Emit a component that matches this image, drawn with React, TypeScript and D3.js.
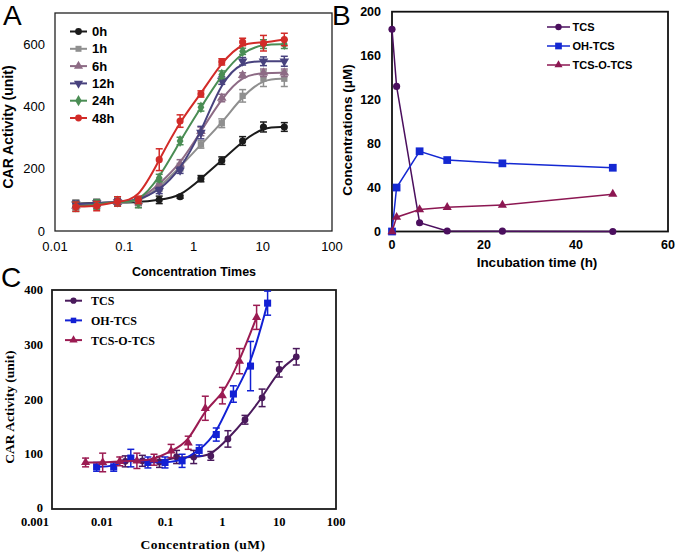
import React from "react";
import * as d3 from "d3";

// ---- panel A: CAR activity vs concentration times ----
const concTimes = [0.02, 0.04, 0.08, 0.16, 0.32, 0.64, 1.28, 2.56, 5.12, 10.24, 20.48];
const act0h = [88, 90, 92, 92, 100, 110, 168, 226, 289, 334, 334];
const err0h = [10, 10, 10, 10, 12, 5, 10, 12, 14, 16, 14];
const act1h = [85, 88, 95, 90, 140, 205, 278, 346, 434, 489, 489];
const err1h = [15, 15, 15, 15, 12, 12, 12, 14, 20, 25, 25];
const act6h = [80, 85, 92, 95, 150, 215, 320, 427, 500, 508, 508];
const err6h = [12, 12, 12, 12, 12, 14, 14, 12, 8, 12, 12];
const act12h = [86, 90, 93, 98, 130, 195, 316, 483, 545, 545, 545];
const err12h = [10, 10, 10, 10, 10, 10, 20, 12, 12, 14, 16];
const act24h = [78, 85, 95, 90, 170, 289, 397, 502, 577, 600, 600];
const err24h = [15, 15, 15, 15, 12, 12, 12, 12, 10, 14, 14];
const act48h = [78, 80, 95, 100, 229, 353, 440, 543, 607, 603, 615];
const err48h = [15, 15, 15, 12, 35, 20, 10, 10, 12, 25, 20];
const aLabels = ["0h", "1h", "6h", "12h", "24h", "48h"];
const aXTicks = [0.01, 0.1, 1, 10, 100];
const aYTicks = [0, 200, 400, 600];

// ---- panel B: concentrations vs incubation time ----
const incTime = [0, 1, 6, 12, 24, 48];
const concTcs = [184, 132, 8, 0.5, 0.3, 0];
const concOhTcs = [0, 40, 73, 65, 62, 58];
const concTcsOTcs = [0, 13, 20, 22, 24, 34];
const bLabels = ["TCS", "OH-TCS", "TCS-O-TCS"];
const bXTicks = [0, 20, 40, 60];
const bYTicks = [0, 40, 80, 120, 160, 200];

// ---- panel C: CAR activity vs concentration ----
const xTcs = [0.0195, 0.039, 0.078, 0.156, 0.3125, 0.625, 1.25, 2.5, 5, 10, 20];
const yTcs = [87, 88, 86, 95, 95, 97, 128, 163, 203, 255, 278];
const eTcs = [10, 10, 10, 12, 12, 8, 15, 8, 16, 14, 15];
const xOh = [0.0061, 0.0122, 0.0244, 0.0488, 0.0977, 0.195, 0.39, 0.78, 1.5625, 3.125, 6.25];
const yOh = [77, 77, 93, 85, 85, 88, 107, 136, 210, 261, 376];
const eOh = [8, 8, 16, 10, 10, 12, 10, 12, 15, 45, 22];
const xTot = [0.0039, 0.0078, 0.0156, 0.03125, 0.0625, 0.125, 0.25, 0.5, 1, 2, 4];
const yTot = [85, 85, 87, 88, 90, 106, 121, 184, 207, 270, 350];
const eTot = [8, 17, 8, 14, 10, 12, 12, 22, 15, 23, 22];
const cXTicks = [0.001, 0.01, 0.1, 1, 10, 100];
const cYTicks = [0, 100, 200, 300, 400];

const SANS = "'Liberation Sans', Arial, sans-serif";
const SERIF = "'Liberation Serif', 'Times New Roman', serif";

type Pt = { x: number; y: number; e: number };

function marker(shape: string, size: number) {
  const t =
    shape === "square" ? d3.symbolSquare
    : shape === "tri" || shape === "triDown" ? d3.symbolTriangle
    : shape === "diamond" ? d3.symbolDiamond
    : d3.symbolCircle;
  return d3.symbol().type(t).size(size)() || "";
}

function Mark({ x, y, shape, color, size }: any) {
  const rot = shape === "triDown" ? " rotate(180)" : "";
  return <path d={marker(shape, size)} transform={`translate(${x},${y})${rot}`} fill={color} />;
}

export default function App() {
  // scales
  const ax = d3.scaleLog().domain([0.01, 100]).range([55, 332]);
  const ay = d3.scaleLinear().domain([0, 700]).range([231, 13]);
  const bx = d3.scaleLinear().domain([0, 60]).range([392, 668]);
  const by = d3.scaleLinear().domain([0, 200]).range([231.5, 11.7]);
  const cx = d3.scaleLog().domain([0.001, 100]).range([52, 336]);
  const cy = d3.scaleLinear().domain([0, 400]).range([509, 290]);

  const aVals = [act0h, act1h, act6h, act12h, act24h, act48h];
  const aErrs = [err0h, err1h, err6h, err12h, err24h, err48h];
  const aColors = ["#1b1b1b", "#8f8f8f", "#8d6b85", "#48427e", "#4a8d54", "#d22b28"];
  const aShapes = ["circle", "square", "tri", "triDown", "diamond", "circle"];
  const seriesA = aLabels.map((name, i) => ({
    name,
    color: aColors[i],
    shape: aShapes[i],
    pts: concTimes.map((x, j) => ({ x, y: aVals[i][j], e: aErrs[i][j] })) as Pt[],
  }));

  const bVals = [concTcs, concOhTcs, concTcsOTcs];
  const bColors = ["#4b0f5e", "#1428d2", "#8c1752"];
  const bShapes = ["circle", "square", "tri"];

  const cXs = [xTcs, xOh, xTot];
  const cYs = [yTcs, yOh, yTot];
  const cEs = [eTcs, eOh, eTot];
  const cColors = ["#4a1a5c", "#1220d4", "#9b1b52"];
  const seriesC = bLabels.map((name, i) => ({
    name,
    color: cColors[i],
    shape: bShapes[i],
    pts: cXs[i].map((x, j) => ({ x, y: cYs[i][j], e: cEs[i][j] })) as Pt[],
  }));

  const fitLine = (xs: any, ys: any) =>
    d3.line<Pt>().x((d) => xs(d.x)).y((d) => ys(d.y)).curve(d3.curveBasis);

  const errBars = (pts: Pt[], xs: any, ys: any, color: string, cap: number, key: string) =>
    pts.map((d, j) => {
      const x = xs(d.x);
      const y1 = ys(d.y - d.e);
      const y2 = ys(d.y + d.e);
      return (
        <g key={key + j} stroke={color} strokeWidth={1.5}>
          <line x1={x} x2={x} y1={y1} y2={y2} />
          <line x1={x - cap} x2={x + cap} y1={y1} y2={y1} />
          <line x1={x - cap} x2={x + cap} y1={y2} y2={y2} />
        </g>
      );
    });

  return (
    <svg width={677} height={552} style={{ position: "absolute", left: 0, top: 0, background: "#fff" }}>
      <rect width={677} height={552} fill="#fff" />

      {/* ===== Panel A ===== */}
      <text x={3} y={25} fontFamily={SANS} fontSize={28}>A</text>
      <rect x={55} y={13} width={277} height={218} fill="none" stroke="#222" strokeWidth={1.3} />
      {aYTicks.map((t) => (
        <text key={"ay" + t} x={45} y={ay(t) + 4.5} textAnchor="end" fontFamily={SANS} fontSize={13}>{t}</text>
      ))}
      {aXTicks.map((t) => (
        <text key={"ax" + t} x={ax(t)} y={251} textAnchor="middle" fontFamily={SANS} fontSize={13}>{String(t)}</text>
      ))}
      <text x={194} y={276} textAnchor="middle" fontFamily={SANS} fontSize={12.5} fontWeight="bold">Concentration Times</text>
      <text transform="translate(13,127) rotate(-90)" textAnchor="middle" fontFamily={SANS} fontSize={14} fontWeight="bold">CAR Activity (unit)</text>
      {seriesA.map((s) => (
        <g key={"sa" + s.name}>
          {errBars(s.pts, ax, ay, s.color, 3.5, "ea" + s.name)}
          <path d={fitLine(ax, ay)(s.pts) || ""} fill="none" stroke={s.color} strokeWidth={2} />
          {s.pts.map((d, j) => (
            <Mark key={j} x={ax(d.x)} y={ay(d.y)} shape={s.shape} color={s.color} size={40} />
          ))}
        </g>
      ))}
      {seriesA.map((s, i) => {
        const y = 31.5 + i * 17.3;
        return (
          <g key={"la" + s.name}>
            <line x1={70} x2={87} y1={y} y2={y} stroke={s.color} strokeWidth={2} />
            <Mark x={78.5} y={y} shape={s.shape} color={s.color} size={36} />
            <text x={92} y={y + 4.5} fontFamily={SANS} fontSize={13} fontWeight="bold">{s.name}</text>
          </g>
        );
      })}

      {/* ===== Panel B ===== */}
      <text x={332} y={25} fontFamily={SANS} fontSize={28}>B</text>
      <rect x={392} y={11.7} width={276} height={219.8} fill="none" stroke="#111" strokeWidth={1.8} />
      {bYTicks.map((t) => (
        <text key={"by" + t} x={381} y={by(t) + 4.5} textAnchor="end" fontFamily={SANS} fontSize={12.5} fontWeight="bold">{t}</text>
      ))}
      {bXTicks.map((t) => (
        <text key={"bx" + t} x={bx(t)} y={249} textAnchor="middle" fontFamily={SANS} fontSize={12.5} fontWeight="bold">{t}</text>
      ))}
      <text x={537} y={267} textAnchor="middle" fontFamily={SANS} fontSize={13.5} fontWeight="bold">Incubation time (h)</text>
      <text transform="translate(352,130) rotate(-90)" textAnchor="middle" fontFamily={SANS} fontSize={13.5} fontWeight="bold">Concentrations (μM)</text>
      {bLabels.map((name, i) => {
        const pts = incTime.map((x, j) => ({ x, y: bVals[i][j], e: 0 }));
        const ln = d3.line<Pt>().x((d) => bx(d.x)).y((d) => by(d.y));
        const size = bShapes[i] === "square" ? 60 : bShapes[i] === "tri" ? 36 : 40;
        return (
          <g key={"sb" + name}>
            <path d={ln(pts) || ""} fill="none" stroke={bColors[i]} strokeWidth={1.5} />
            {pts.map((d, j) => (
              <Mark key={j} x={bx(d.x)} y={by(d.y)} shape={bShapes[i]} color={bColors[i]} size={size} />
            ))}
          </g>
        );
      })}
      {bLabels.map((name, i) => {
        const y = 27 + i * 19;
        const size = bShapes[i] === "square" ? 45 : bShapes[i] === "tri" ? 28 : 32;
        return (
          <g key={"lb" + name}>
            <line x1={547} x2={570} y1={y} y2={y} stroke={bColors[i]} strokeWidth={1.5} />
            <Mark x={558.5} y={y} shape={bShapes[i]} color={bColors[i]} size={size} />
            <text x={572.5} y={y + 4} fontFamily={SANS} fontSize={11} fontWeight="bold">{name}</text>
          </g>
        );
      })}

      {/* ===== Panel C ===== */}
      <text x={1} y={287} fontFamily={SANS} fontSize={28}>C</text>
      <rect x={52} y={290} width={284} height={219} fill="none" stroke="#1a1a1a" strokeWidth={1.8} />
      {cYTicks.map((t) => (
        <text key={"cy" + t} x={43} y={cy(t) + (t === 0 ? 2.5 : 4)} textAnchor="end" fontFamily={SERIF} fontSize={12.5} fontWeight="bold">{t}</text>
      ))}
      {cXTicks.map((t) => (
        <text key={"cx" + t} x={t === 0.001 ? 35 : t === 0.01 ? 102 : cx(t)} y={525.5} textAnchor="middle" fontFamily={SERIF} fontSize={12.5} fontWeight="bold">{String(t)}</text>
      ))}
      <text x={203} y={548.5} textAnchor="middle" fontFamily={SERIF} fontSize={13.5} fontWeight="bold" letterSpacing={0.5}>Concentration (uM)</text>
      <text transform="translate(14,407) rotate(-90)" textAnchor="middle" fontFamily={SERIF} fontSize={13.5} fontWeight="bold">CAR Activity (unit)</text>
      {seriesC.map((s) => (
        <g key={"sc" + s.name}>
          {errBars(s.pts, cx, cy, s.color, 3.5, "ec" + s.name)}
          <path d={fitLine(cx, cy)(s.pts) || ""} fill="none" stroke={s.color} strokeWidth={2} />
          {s.pts.map((d, j) => (
            <Mark key={j} x={cx(d.x)} y={cy(d.y)} shape={s.shape} color={s.color}
              size={s.shape === "square" ? 50 : 36} />
          ))}
        </g>
      ))}
      {seriesC.map((s, i) => {
        const y = 300.7 + i * 19.7;
        return (
          <g key={"lc" + s.name}>
            <line x1={65} x2={82} y1={y} y2={y} stroke={s.color} strokeWidth={2} />
            <Mark x={73.5} y={y} shape={s.shape} color={s.color} size={30} />
            <text x={91} y={y + 4.5} fontFamily={SERIF} fontSize={12} fontWeight="bold">{s.name}</text>
          </g>
        );
      })}
    </svg>
  );
}
